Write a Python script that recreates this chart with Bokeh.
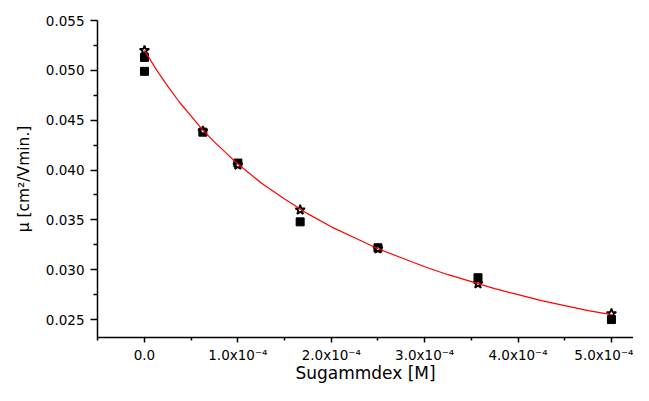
from bokeh.plotting import figure
from bokeh.models import Range1d, FixedTicker
from bokeh.embed import file_html
from bokeh.resources import INLINE

# data
conc_sq = [0.0, 0.0, 6.25e-5, 1.0e-4, 1.667e-4, 2.5e-4, 3.571e-4, 5.0e-4]
mu_sq = [0.0513, 0.0499, 0.0438, 0.0407, 0.0348, 0.0322, 0.0292, 0.0250]

conc_star = [0.0, 6.25e-5, 1.0e-4, 1.667e-4, 2.5e-4, 3.571e-4, 5.0e-4]
mu_star = [0.0520, 0.0439, 0.0405, 0.0360, 0.0321, 0.0286, 0.0256]

fit_x = [0.0, 0.125e-4, 0.25e-4, 0.375e-4, 0.5e-4, 0.625e-4, 0.75e-4, 0.875e-4,
         1.0e-4, 1.25e-4, 1.5e-4, 1.75e-4, 2.0e-4, 2.25e-4, 2.5e-4, 2.75e-4,
         3.0e-4, 3.25e-4, 3.5e-4, 3.75e-4, 4.0e-4, 4.25e-4, 4.5e-4, 4.75e-4, 5.0e-4]
fit_y = [0.0520, 0.0501, 0.0484, 0.0468, 0.0454, 0.0440, 0.0428, 0.0417,
         0.0406, 0.0387, 0.0371, 0.0356, 0.0343, 0.0332, 0.0321, 0.0312,
         0.0303, 0.0295, 0.0288, 0.0281, 0.0275, 0.0269, 0.0264, 0.0259, 0.0255]

x_ticks = [0.0, 1e-4, 2e-4, 3e-4, 4e-4, 5e-4]
x_tick_labels = ["0.0", "1.0x10\u207b\u2074", "2.0x10\u207b\u2074", "3.0x10\u207b\u2074",
                 "4.0x10\u207b\u2074", "5.0x10\u207b\u2074"]
x_minor = [-0.5e-4, 0.5e-4, 1.5e-4, 2.5e-4, 3.5e-4, 4.5e-4]
y_ticks = [0.025, 0.030, 0.035, 0.040, 0.045, 0.050, 0.055]
y_tick_labels = ["0.025", "0.030", "0.035", "0.040", "0.045", "0.050", "0.055"]
y_minor = [0.0225, 0.0275, 0.0325, 0.0375, 0.0425, 0.0475, 0.0525]
x_title = "Sugammdex [M]"
y_title = "\u03bc [cm\u00b2/Vmin.]"

p = figure(width=633, height=385, output_backend="svg", toolbar_location=None,
           x_range=Range1d(-0.503e-4, 5.236e-4),
           y_range=Range1d(0.0232, 0.055),
           min_border_left=97, min_border_top=20, min_border_bottom=40,
           min_border_right=0)
p.outline_line_color = None
p.grid.visible = False
p.background_fill_color = "white"
p.border_fill_color = "white"

font = "DejaVu Sans"
p.xaxis.ticker = FixedTicker(ticks=x_ticks, minor_ticks=x_minor)
p.yaxis.ticker = FixedTicker(ticks=y_ticks, minor_ticks=y_minor)
p.xaxis.major_label_overrides = {t: l for t, l in zip(x_ticks, x_tick_labels)}
p.yaxis.major_label_overrides = {t: l for t, l in zip(y_ticks, y_tick_labels)}

for ax in (p.xaxis, p.yaxis):
    ax.axis_line_width = 1.5
    ax.axis_line_color = "black"
    ax.major_tick_line_width = 1.5
    ax.minor_tick_line_width = 1.5
    ax.major_tick_line_color = "black"
    ax.minor_tick_line_color = "black"
    ax.major_tick_in = 0
    ax.minor_tick_in = 0
    ax.major_label_text_font = font
    ax.major_label_text_font_size = "13.5px"
    ax.major_label_text_color = "black"
    ax.axis_label_text_font = font
    ax.axis_label_text_font_style = "normal"
    ax.axis_label_text_color = "black"

p.xaxis.major_tick_out = 5
p.xaxis.minor_tick_out = 3
p.xaxis.major_label_standoff = 4
p.xaxis.axis_label = x_title
p.xaxis.axis_label_text_font_size = "17px"
p.xaxis.axis_label_standoff = -3

p.yaxis.major_tick_out = 7
p.yaxis.minor_tick_out = 4
p.yaxis.major_label_standoff = 6
p.yaxis.axis_label = y_title
p.yaxis.axis_label_text_font_size = "15.5px"
p.yaxis.axis_label_standoff = 10

p.scatter(conc_sq, mu_sq, marker="square", size=8, fill_color="black",
          line_color="black")
p.scatter(conc_star, mu_star, marker="star", size=10, fill_color="white",
          line_color="black", line_width=1.8)
p.line(fit_x, fit_y, line_color="red", line_width=1.2)

open("out.html", "w").write(file_html(p, INLINE))
